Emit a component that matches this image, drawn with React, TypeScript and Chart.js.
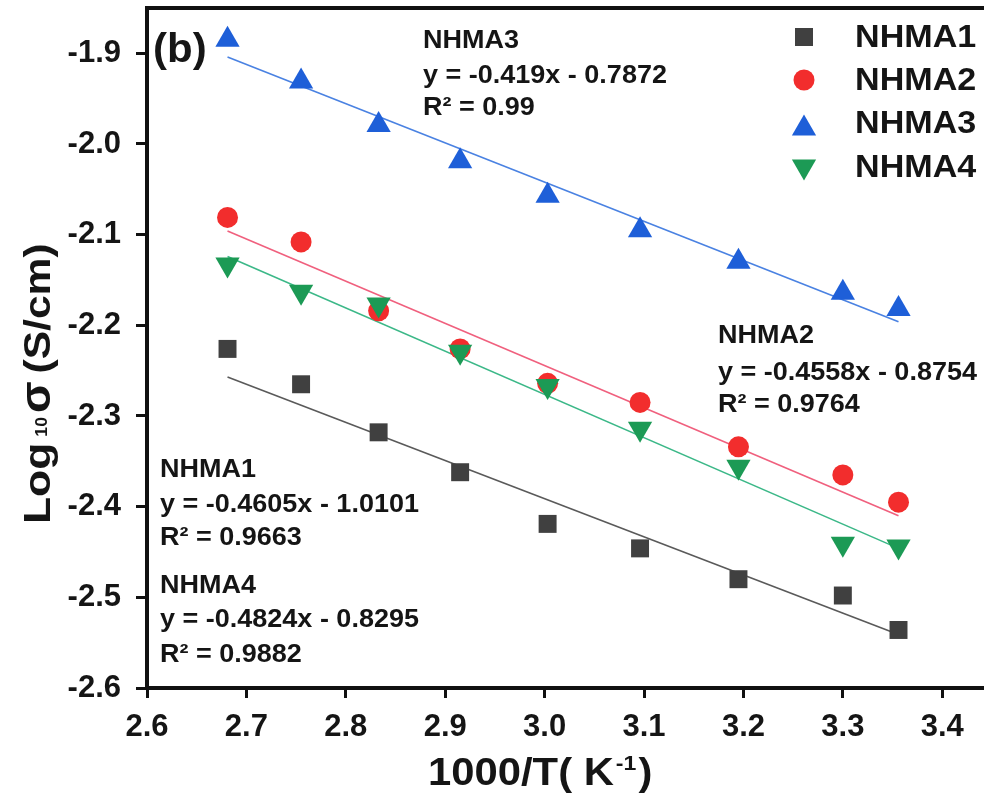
import React, { useEffect, useRef } from 'react';
import { Chart, registerables } from 'chart.js';

Chart.register(...registerables);

// ---- data ----
const seriesNames = ['NHMA1', 'NHMA2', 'NHMA3', 'NHMA4'];
const xValues = [2.681, 2.755, 2.833, 2.915, 3.003, 3.096, 3.195, 3.3, 3.356];
const nhma1 = [-2.226, -2.265, -2.318, -2.362, -2.419, -2.446, -2.48, -2.498, -2.536];
const nhma2 = [-2.081, -2.108, -2.184, -2.226, -2.264, -2.285, -2.334, -2.365, -2.395];
const nhma3 = [-1.885, -1.931, -1.979, -2.019, -2.057, -2.095, -2.13, -2.164, -2.182];
const nhma4 = [-2.133, -2.163, -2.177, -2.229, -2.267, -2.314, -2.356, -2.441, -2.444];

// linear-fit line end points (x from first to last temperature)
const fitX = [2.681, 3.356];
const fit1 = [-2.257, -2.541];
const fit2 = [-2.096, -2.41];
const fit3 = [-1.904, -2.196];
const fit4 = [-2.124, -2.446];

const xTicks = [2.6, 2.7, 2.8, 2.9, 3.0, 3.1, 3.2, 3.3, 3.4];
const yTicks = [-2.6, -2.5, -2.4, -2.3, -2.2, -2.1, -2.0, -1.9];

const annot1 = ['NHMA1', 'y = -0.4605x - 1.0101', 'R² = 0.9663'];
const annot2 = ['NHMA2', 'y = -0.4558x - 0.8754', 'R² = 0.9764'];
const annot3 = ['NHMA3', 'y = -0.419x - 0.7872', 'R² = 0.99'];
const annot4 = ['NHMA4', 'y = -0.4824x - 0.8295', 'R² = 0.9882'];

const panelLabel = '(b)';

const FONT = "'Liberation Sans', Arial, Helvetica, sans-serif";
const markerColors = ['#404040', '#f22d2d', '#1e5fd8', '#1c9a55'];
const lineColors = ['#5a5a5a', '#f0607e', '#4a82e2', '#3cb888'];

function pts(ys: number[]) {
  return xValues.map((x, i) => ({ x, y: ys[i] }));
}
function fitPts(ys: number[]) {
  return fitX.map((x, i) => ({ x, y: ys[i] }));
}

function txt(ctx: CanvasRenderingContext2D, s: string, x: number, y: number, font: string, sx = 1.08) {
  ctx.save();
  ctx.font = font;
  ctx.translate(x, y);
  ctx.scale(sx, 1);
  ctx.textAlign = 'left';
  ctx.textBaseline = 'alphabetic';
  ctx.fillText(s, 0, 0);
  const w = ctx.measureText(s).width * sx;
  ctx.restore();
  return w;
}

function drawMarker(ctx: CanvasRenderingContext2D, kind: number, x: number, y: number) {
  ctx.save();
  ctx.fillStyle = markerColors[kind];
  ctx.beginPath();
  if (kind === 0) {
    ctx.rect(x - 9, y - 9, 18, 18);
  } else if (kind === 1) {
    ctx.arc(x, y, 10.5, 0, Math.PI * 2);
  } else if (kind === 2) {
    const r = 14;
    ctx.moveTo(x, y - r);
    ctx.lineTo(x - r * 0.866, y + r / 2);
    ctx.lineTo(x + r * 0.866, y + r / 2);
    ctx.closePath();
  } else {
    const r = 14;
    ctx.moveTo(x, y + r);
    ctx.lineTo(x - r * 0.866, y - r / 2);
    ctx.lineTo(x + r * 0.866, y - r / 2);
    ctx.closePath();
  }
  ctx.fill();
  ctx.restore();
}

const decorPlugin = {
  id: 'decor',
  afterDraw(chart: any) {
    const ctx: CanvasRenderingContext2D = chart.ctx;
    const a = chart.chartArea;
    ctx.save();
    // top frame line
    ctx.strokeStyle = '#111';
    ctx.lineWidth = 4;
    ctx.beginPath();
    ctx.moveTo(a.left - 2, a.top);
    ctx.lineTo(a.right, a.top);
    ctx.stroke();

    ctx.fillStyle = '#151515';
    // panel label
    txt(ctx, panelLabel, 153, 62, `bold 40px ${FONT}`, 1.05);

    // annotations
    const af = `bold 25px ${FONT}`;
    const blocks: [string[], number, number[]][] = [
      [annot3, 423, [48, 83, 115]],
      [annot2, 718, [343, 380, 412]],
      [annot1, 160, [477, 512, 545]],
      [annot4, 160, [593, 627, 662]],
    ];
    blocks.forEach(([lines, x, ys]) => {
      lines.forEach((l, i) => txt(ctx, l, x, ys[i], af, 1.08));
    });

    // legend
    const lf = `bold 31px ${FONT}`;
    const legY = [47, 90, 133, 177];
    const mY = [37, 80, 128.5, 166.5];
    seriesNames.forEach((n, i) => {
      drawMarker(ctx, i, 804, mY[i]);
      ctx.fillStyle = '#151515';
      txt(ctx, n, 855, legY[i], lf, 1.1);
    });

    // x-axis title
    ctx.fillStyle = '#151515';
    let cx = 428;
    cx += txt(ctx, '1000/T( K', cx, 785, `bold 38px ${FONT}`, 1.1);
    cx += 2;
    cx += txt(ctx, '-1', cx, 770, `bold 21px ${FONT}`, 1.1);
    cx += 2;
    txt(ctx, ')', cx, 785, `bold 38px ${FONT}`, 1.1);

    // y-axis title (rotated)
    ctx.save();
    ctx.translate(50, 524);
    ctx.rotate(-Math.PI / 2);
    let p = 0;
    p += txt(ctx, 'Log', p, 0, `bold 37px ${FONT}`, 1.2);
    p += 6;
    p += txt(ctx, '10', p, -3, `bold 16px ${FONT}`, 1.1);
    p += 4;
    p += txt(ctx, 'σ', p, 0, `bold 42px ${FONT}`, 1.1);
    p += 8;
    txt(ctx, '(S/cm)', p, 0, `bold 37px ${FONT}`, 1.15);
    ctx.restore();

    ctx.restore();
  },
};

function zeroPad(s: any) {
  s.paddingTop = 0;
  s.paddingBottom = 0;
  s.paddingLeft = 0;
  s.paddingRight = 0;
}

export default function App() {
  const ref = useRef<HTMLCanvasElement | null>(null);
  useEffect(() => {
    if (!ref.current) return;
    const tickFont = { family: FONT, size: 31, weight: 'bold' as const };
    const scatterSets = [nhma1, nhma2, nhma3, nhma4].map((ys, i) => ({
      label: seriesNames[i],
      data: pts(ys),
      showLine: false,
      pointStyle: ['rect', 'circle', 'triangle', 'triangle'][i],
      pointRotation: i === 3 ? 180 : 0,
      pointRadius: [12.7, 10.5, 14, 14][i],
      pointHoverRadius: [12.7, 10.5, 14, 14][i],
      backgroundColor: markerColors[i],
      borderColor: markerColors[i],
      borderWidth: 0,
      order: 4 - i,
      clip: false as const,
    }));
    const fitSets = [fit1, fit2, fit3, fit4].map((ys, i) => ({
      label: seriesNames[i] + ' fit',
      data: fitPts(ys),
      showLine: true,
      pointRadius: 0,
      borderColor: lineColors[i],
      borderWidth: 1.6,
      backgroundColor: lineColors[i],
      order: 10,
    }));
    const chart = new Chart(ref.current, {
      type: 'scatter',
      data: { datasets: [...scatterSets, ...fitSets] as any },
      options: {
        responsive: false,
        animation: false,
        devicePixelRatio: 1,
        layout: { autoPadding: false, padding: { top: 8, left: 0, right: 0, bottom: 0 } },
        plugins: { legend: { display: false }, tooltip: { enabled: false } },
        scales: {
          x: {
            type: 'linear',
            position: 'bottom',
            min: 2.6,
            max: 3.442,
            afterBuildTicks: (s: any) => {
              s.ticks = xTicks.map((v) => ({ value: v }));
            },
            afterFit: (s: any) => {
              s.height = 109;
              zeroPad(s);
            },
            ticks: {
              font: tickFont,
              color: '#151515',
              padding: 11,
              autoSkip: false,
              maxRotation: 0,
              callback: (v: any) => Number(v).toFixed(1),
            },
            grid: {
              display: true,
              drawOnChartArea: false,
              drawTicks: true,
              tickLength: 10,
              tickWidth: 3,
              tickColor: '#111',
            },
            border: { display: true, width: 4, color: '#111' },
          },
          y: {
            type: 'linear',
            position: 'left',
            min: -2.6,
            max: -1.85,
            afterBuildTicks: (s: any) => {
              s.ticks = yTicks.map((v) => ({ value: v }));
            },
            afterFit: (s: any) => {
              s.width = 147;
              zeroPad(s);
            },
            ticks: {
              font: tickFont,
              color: '#151515',
              padding: 15,
              autoSkip: false,
              callback: (v: any) => Number(v).toFixed(1),
            },
            grid: {
              display: true,
              drawOnChartArea: false,
              drawTicks: true,
              tickLength: 11,
              tickWidth: 3,
              tickColor: '#111',
            },
            border: { display: true, width: 4, color: '#111' },
          },
        },
      } as any,
      plugins: [decorPlugin],
    });
    return () => chart.destroy();
  }, []);
  return (
    <div style={{ position: 'absolute', left: 0, top: 0, width: 984, height: 797, background: '#fff' }}>
      <canvas ref={ref} width={984} height={797} style={{ display: 'block', width: 984, height: 797 }} />
    </div>
  );
}
